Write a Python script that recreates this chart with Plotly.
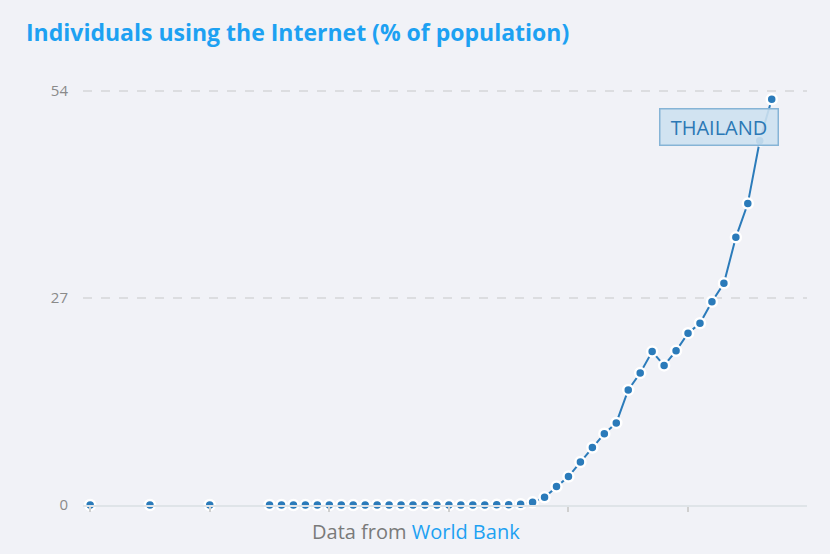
import plotly.graph_objects as go

years = list(range(1960, 2018))
# None = year not reported (no line drawn across it)
values = (
    [0] + [None] * 4 + [0] + [None] * 4 + [0] + [None] * 4 +   # 1960-1974
    [0] * 16 +                                                 # 1975-1990
    [0.0, 0.01, 0.01, 0.02, 0.04,      # 1991-1995
     0.1, 0.35, 1.0, 2.4, 3.7,         # 1996-2000
     5.6, 7.5, 9.3, 10.7, 15.0,        # 2001-2005
     17.2, 20.0, 18.2, 20.1, 22.4,     # 2006-2010
     23.7, 26.5, 28.9, 34.9, 39.3,     # 2011-2015
     47.5, 52.9]                       # 2016-2017
)
y_ticks = [0, 27, 54]
title_text = "Individuals using the Internet (% of population)"
country = "THAILAND"

bg = "#f1f2f7"
line_color = "#2b7bba"

fig = go.Figure()
fig.add_trace(go.Scatter(
    x=years, y=values, mode="lines+markers", connectgaps=False,
    line=dict(color=line_color, width=2),
    marker=dict(size=10, color=line_color, line=dict(color="white", width=2.5)),
    cliponaxis=False, hoverinfo="x+y", showlegend=False,
))

fig.update_layout(
    width=830, height=554,
    paper_bgcolor=bg, plot_bgcolor=bg,
    margin=dict(l=83, r=23, t=87, b=49),
    font=dict(family="Open Sans", color="#888888"),
    title=dict(text=f"<b>{title_text}</b>", x=26 / 830, xref="container", xanchor="left",
               y=1 - 33 / 554, yanchor="middle", yref="container",
               font=dict(size=23, color="#1da1f2", family="Open Sans")),
    xaxis=dict(range=[1959.4, 2019.95], showgrid=False, zeroline=False,
               showline=True, linecolor="#dfe4e8", linewidth=2,
               ticks="outside", ticklen=5, tickcolor="#d0d0d0", tickwidth=2,
               tick0=1960, dtick=10, showticklabels=False),
    yaxis=dict(range=[0, 54.5], tickvals=y_ticks, ticktext=[str(v) for v in y_ticks],
               showgrid=True, gridcolor="#dcdde0", griddash="dash", gridwidth=1.5,
               zeroline=False, showline=False, ticks="",
               tickfont=dict(size=15, color="#8a8a8a"), ticklabelstandoff=14),
)

fig.add_annotation(
    x=2012.6, y=49.3, xref="x", yref="y", text=country, showarrow=False,
    xanchor="center", yanchor="middle",
    font=dict(size=20, color="#2b78b5", family="Open Sans"),
    bgcolor="rgba(205,225,240,0.9)", bordercolor="#86b4d6", borderwidth=1.5,
    width=113, height=31, borderpad=2,
)

fig.add_annotation(
    x=(416 - 83) / 724, y=(505 - 531) / 414, xref="paper", yref="paper",
    xanchor="center", yanchor="middle",
    text="Data from <span style='color:#1da1f2'>World Bank</span>",
    showarrow=False, font=dict(size=20, color="#7a7a7a", family="Open Sans"),
)

fig.write_html("out.html")
